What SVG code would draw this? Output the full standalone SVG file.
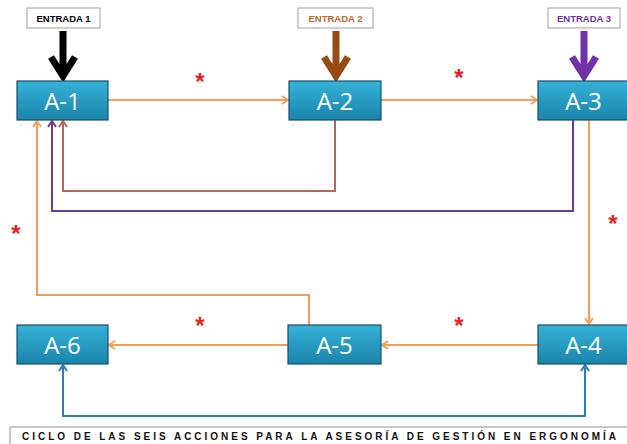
<svg xmlns="http://www.w3.org/2000/svg" width="627" height="444" viewBox="0 0 627 444">
<defs>
<linearGradient id="ng" x1="0" y1="0" x2="0" y2="1">
<stop offset="0" stop-color="#36b2d8"/>
<stop offset="1" stop-color="#1a84ab"/>
</linearGradient>
<marker id="mo" markerWidth="10" markerHeight="10" refX="7" refY="5" orient="auto" markerUnits="userSpaceOnUse"><path d="M1,1 L7,5 L1,9" fill="none" stroke="#f0a05a" stroke-width="2"/></marker>
<marker id="mr" markerWidth="10" markerHeight="10" refX="7" refY="5" orient="auto" markerUnits="userSpaceOnUse"><path d="M1,1 L7,5 L1,9" fill="none" stroke="#c0605a" stroke-width="2"/></marker>
<marker id="mp" markerWidth="10" markerHeight="10" refX="7" refY="5" orient="auto" markerUnits="userSpaceOnUse"><path d="M1,1 L7,5 L1,9" fill="none" stroke="#6a3aa0" stroke-width="2"/></marker>
<marker id="mb" markerWidth="10" markerHeight="10" refX="7" refY="5" orient="auto-start-reverse" markerUnits="userSpaceOnUse"><path d="M1,1 L7,5 L1,9" fill="none" stroke="#2a7cc0" stroke-width="2"/></marker>
</defs>
<style>
.node rect{fill:url(#ng);stroke:#1d4f63;stroke-width:1.2}
.node text{font-family:"Open Sans","DejaVu Sans",sans-serif;font-size:24px;fill:#ffffff;text-anchor:middle}
.lbl rect{fill:#ffffff;stroke:#a0a0a0;stroke-width:1}
.lbl text{font-family:"Liberation Sans",Arial,sans-serif;font-size:9.5px;font-weight:bold;text-anchor:middle}
.ast{font-family:"Liberation Sans",Arial,sans-serif;font-size:24px;font-weight:bold;fill:#e8201e;text-anchor:middle}
.c{fill:none;stroke-width:2}
.big{fill:none;stroke-width:7}
</style>
<rect width="627" height="444" fill="#ffffff"/>

<g id="inputs">
<g id="entrada1" class="lbl"><rect x="27" y="8" width="73" height="20"/><text x="63.5" y="21.5" fill="#000000">ENTRADA 1</text></g>
<g id="entrada2" class="lbl"><rect x="298" y="8" width="75" height="20"/><text x="335.5" y="21.5" fill="#c0662a">ENTRADA 2</text></g>
<g id="entrada3" class="lbl"><rect x="548" y="8" width="72" height="20"/><text x="584" y="21.5" fill="#7030a0">ENTRADA 3</text></g>
</g>

<g id="connectors">
<path class="big" stroke="#000000" d="M63,31 V76 M51,57 L63,76 L75,57"/>
<path class="big" stroke="#984a14" d="M336,31 V76 M324,57 L336,76 L348,57"/>
<path class="big" stroke="#7030a8" d="M584,31 V76 M572,57 L584,76 L596,57"/>
<path class="c" stroke="#f0a05a" d="M108,100 H288" marker-end="url(#mo)"/>
<path class="c" stroke="#f0a05a" d="M381,100 H537" marker-end="url(#mo)"/>
<path class="c" stroke="#c0605a" d="M335,120 V191 H63 V121" marker-end="url(#mr)"/>
<path class="c" stroke="#6a3aa0" d="M573,120 V211 H52 V121" marker-end="url(#mp)"/>
<path class="c" stroke="#f0a05a" d="M589,120 V324" marker-end="url(#mo)"/>
<path class="c" stroke="#f0a05a" d="M538,345 H382" marker-end="url(#mo)"/>
<path class="c" stroke="#f0a05a" d="M288,345 H109" marker-end="url(#mo)"/>
<path class="c" stroke="#f0a05a" d="M309,325 V295 H37 V121" marker-end="url(#mo)"/>
<path class="c" stroke="#2a7cc0" d="M63,365 V416 H585 V365" marker-start="url(#mb)" marker-end="url(#mb)"/>
</g>

<g id="stars">
<text class="ast" x="200" y="90">*</text>
<text class="ast" x="459" y="86">*</text>
<text class="ast" x="613" y="232">*</text>
<text class="ast" x="16" y="242">*</text>
<text class="ast" x="200" y="334">*</text>
<text class="ast" x="459" y="334">*</text>
</g>

<g id="A1" class="node"><rect x="17" y="81" width="91" height="39"/><text x="62.5" y="110">A-1</text></g>
<g id="A2" class="node"><rect x="289" y="81" width="92" height="39"/><text x="335" y="110">A-2</text></g>
<g id="A3" class="node"><rect x="538" y="81" width="91" height="39"/><text x="583.5" y="110">A-3</text></g>
<g id="A4" class="node"><rect x="538" y="325" width="91" height="39"/><text x="583.5" y="354">A-4</text></g>
<g id="A5" class="node"><rect x="288" y="325" width="93" height="39"/><text x="334.5" y="354">A-5</text></g>
<g id="A6" class="node"><rect x="17" y="325" width="91" height="39"/><text x="62.5" y="354">A-6</text></g>

<g id="footer">
<path d="M10,444 V427 H627" fill="none" stroke="#909090" stroke-width="1"/>
<text x="22" y="440" textLength="594" lengthAdjust="spacing" font-family="'Liberation Sans',Arial,sans-serif" font-size="10" font-weight="bold" fill="#111111">CICLO DE LAS SEIS ACCIONES PARA LA ASESORÍA DE GESTIÓN EN ERGONOMÍA</text>
</g>
</svg>
